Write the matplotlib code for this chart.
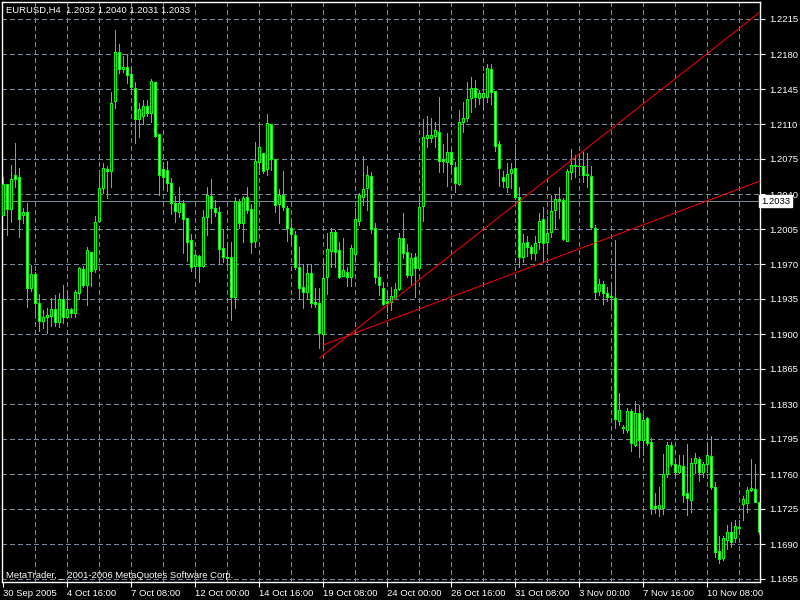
import matplotlib
matplotlib.use("Agg")
import matplotlib.pyplot as plt
from matplotlib.patches import Rectangle

plt.rcParams['font.family'] = ['Liberation Sans', 'DejaVu Sans']

symbol_title = "EURUSD,H4  1.2032 1.2040 1.2031 1.2033"
footer = "MetaTrader, _ 2001-2006 MetaQuotes Software Corp."

opens = [1.2019, 1.2050, 1.2025, 1.2059, 1.2057, 1.2019, 1.2022, 1.1946, 1.1960, 1.1931,
         1.1913, 1.1917, 1.1918, 1.1925, 1.1912, 1.1935, 1.1917, 1.1925, 1.1921, 1.1941,
         1.1965, 1.1949, 1.1982, 1.1965, 1.2013, 1.2046, 1.2065, 1.2063, 1.2133, 1.2182,
         1.2165, 1.2167, 1.2160, 1.2146, 1.2115, 1.2118, 1.2128, 1.2121, 1.2152, 1.2100,
         1.2065, 1.2064, 1.2051, 1.2031, 1.2022, 1.2031, 1.2016, 1.1994, 1.1968, 1.1978,
         1.1968, 1.2017, 1.2038, 1.2026, 1.2022, 1.1986, 1.1977, 1.1977, 1.1937, 1.2032,
         1.2011, 1.2037, 1.2025, 1.1993, 1.2072, 1.2081, 1.2065, 1.2110, 1.2075, 1.2030,
         1.2039, 1.2026, 1.2006, 1.1999, 1.1967, 1.1947, 1.1942, 1.1961, 1.1932, 1.1931,
         1.1900, 1.1957, 1.1983, 1.2002, 1.1984, 1.1958, 1.1962, 1.1957, 1.1980, 1.2013,
         1.2037, 1.2046, 1.2058, 1.2006, 1.1957, 1.1946, 1.1933, 1.1932, 1.1936, 1.1945,
         1.1996, 1.1982, 1.1959, 1.1977, 1.1966, 1.2028, 1.2096, 1.2096, 1.2098, 1.2102,
         1.2075, 1.2072, 1.2082, 1.2067, 1.2050, 1.2112, 1.2116, 1.2136, 1.2146, 1.2136,
         1.2137, 1.2137, 1.2165, 1.2143, 1.2090, 1.2057, 1.2047, 1.2061, 1.2066, 1.2037,
         1.1977, 1.1992, 1.1987, 1.1981, 1.1992, 1.2015, 1.1992, 1.2002, 1.2024, 1.2035,
         1.2034, 1.1993, 1.2062, 1.2068, 1.2068, 1.2068, 1.2060, 1.2058, 1.2006, 1.1943,
         1.1950, 1.1941, 1.1938, 1.1936, 1.1813, 1.1807, 1.1804, 1.1823, 1.1789, 1.1821,
         1.1794, 1.1816, 1.1792, 1.1728, 1.1726, 1.1726, 1.1760, 1.1789, 1.1770, 1.1762,
         1.1768, 1.1741, 1.1734, 1.1771, 1.1775, 1.1762, 1.1770, 1.1778, 1.1747, 1.1683,
         1.1676, 1.1694, 1.1702, 1.1696, 1.1707, 1.1730, 1.1731, 1.1744, 1.1745, 1.1732]
highs = [1.2057, 1.2050, 1.2069, 1.2091, 1.2066, 1.2026, 1.2031, 1.1969, 1.1962, 1.1940,
         1.1924, 1.1926, 1.1936, 1.1939, 1.1941, 1.1949, 1.1944, 1.1926, 1.1944, 1.1967,
         1.1968, 1.1987, 1.1982, 1.2018, 1.2059, 1.2071, 1.2068, 1.2142, 1.2204, 1.2190,
         1.2178, 1.2180, 1.2168, 1.2152, 1.2131, 1.2134, 1.2134, 1.2155, 1.2152, 1.2100,
         1.2072, 1.2073, 1.2056, 1.2038, 1.2047, 1.2034, 1.2016, 1.2000, 1.1980, 1.1979,
         1.2024, 1.2047, 1.2055, 1.2034, 1.2027, 1.2005, 1.1991, 1.1992, 1.2037, 1.2035,
         1.2038, 1.2047, 1.2030, 1.2092, 1.2107, 1.2081, 1.2120, 1.2110, 1.2075, 1.2045,
         1.2063, 1.2028, 1.2011, 1.2003, 1.1987, 1.1970, 1.1970, 1.1970, 1.1946, 1.1946,
         1.1976, 1.2001, 1.2006, 1.2004, 1.1992, 1.1996, 1.1967, 1.1989, 1.2026, 1.2041,
         1.2078, 1.2068, 1.2062, 1.2011, 1.1972, 1.1952, 1.1944, 1.1947, 1.1951, 1.2001,
         1.2021, 1.1990, 1.1981, 1.1981, 1.2037, 1.2115, 1.2118, 1.2116, 1.2112, 1.2137,
         1.2090, 1.2101, 1.2083, 1.2072, 1.2124, 1.2132, 1.2152, 1.2157, 1.2154, 1.2144,
         1.2161, 1.2170, 1.2170, 1.2143, 1.2093, 1.2063, 1.2071, 1.2071, 1.2090, 1.2047,
         1.2000, 1.1998, 1.1989, 1.1998, 1.2021, 1.2027, 1.2018, 1.2039, 1.2040, 1.2047,
         1.2036, 1.2065, 1.2085, 1.2079, 1.2081, 1.2082, 1.2081, 1.2068, 1.2009, 1.1955,
         1.1953, 1.1947, 1.1952, 1.1994, 1.1841, 1.1809, 1.1826, 1.1825, 1.1833, 1.1829,
         1.1819, 1.1817, 1.1796, 1.1741, 1.1747, 1.1780, 1.1792, 1.1792, 1.1776, 1.1779,
         1.1779, 1.1790, 1.1776, 1.1781, 1.1777, 1.1772, 1.1792, 1.1798, 1.1752, 1.1698,
         1.1698, 1.1709, 1.1712, 1.1714, 1.1714, 1.1738, 1.1747, 1.1775, 1.1770, 1.1732]
lows = [1.2019, 1.1999, 1.2012, 1.2047, 1.1997, 1.2011, 1.1927, 1.1943, 1.1921, 1.1903,
        1.1906, 1.1901, 1.1908, 1.1908, 1.1907, 1.1911, 1.1916, 1.1917, 1.1917, 1.1935,
        1.1947, 1.1929, 1.1948, 1.1962, 1.2012, 1.2041, 1.2036, 1.2047, 1.2126, 1.2161,
        1.2162, 1.2151, 1.2142, 1.2091, 1.2097, 1.2110, 1.2118, 1.2112, 1.2097, 1.2039,
        1.2046, 1.2043, 1.2020, 1.2012, 1.2017, 1.1981, 1.1973, 1.1963, 1.1957, 1.1952,
        1.1967, 1.1999, 1.2011, 1.2018, 1.1971, 1.1972, 1.1969, 1.1914, 1.1926, 1.2006,
        1.1992, 1.2021, 1.1981, 1.1987, 1.2061, 1.2061, 1.2059, 1.2064, 1.2022, 1.2011,
        1.2024, 1.1993, 1.1991, 1.1965, 1.1936, 1.1926, 1.1936, 1.1927, 1.1927, 1.1886,
        1.1889, 1.1940, 1.1967, 1.1967, 1.1956, 1.1958, 1.1948, 1.1948, 1.1974, 1.2009,
        1.2029, 1.2024, 1.2001, 1.1951, 1.1939, 1.1929, 1.1922, 1.1924, 1.1936, 1.1944,
        1.1976, 1.1957, 1.1949, 1.1937, 1.1964, 1.2013, 1.2087, 1.2092, 1.2087, 1.2062,
        1.2062, 1.2048, 1.2062, 1.2042, 1.2049, 1.2102, 1.2113, 1.2122, 1.2127, 1.2130,
        1.2124, 1.2132, 1.2130, 1.2083, 1.2048, 1.2047, 1.2042, 1.2046, 1.2035, 1.1967,
        1.1972, 1.1978, 1.1975, 1.1974, 1.1985, 1.1972, 1.1985, 1.1997, 1.2005, 1.2016,
        1.1994, 1.1993, 1.2055, 1.2057, 1.2059, 1.2052, 1.2047, 1.2005, 1.1936, 1.1939,
        1.1930, 1.1933, 1.1928, 1.1806, 1.1809, 1.1801, 1.1802, 1.1783, 1.1788, 1.1777,
        1.1779, 1.1789, 1.1720, 1.1721, 1.1718, 1.1720, 1.1757, 1.1768, 1.1759, 1.1761,
        1.1732, 1.1719, 1.1722, 1.1761, 1.1753, 1.1757, 1.1762, 1.1745, 1.1677, 1.1671,
        1.1674, 1.1685, 1.1687, 1.1692, 1.1702, 1.1714, 1.1722, 1.1743, 1.1732, 1.1700]
closes = [1.2050, 1.2025, 1.2055, 1.2055, 1.2015, 1.2022, 1.1946, 1.1960, 1.1931, 1.1913,
          1.1917, 1.1919, 1.1925, 1.1912, 1.1935, 1.1917, 1.1925, 1.1921, 1.1942, 1.1966,
          1.1949, 1.1984, 1.1963, 1.2012, 1.2046, 1.2066, 1.2063, 1.2131, 1.2182, 1.2165,
          1.2167, 1.2159, 1.2147, 1.2115, 1.2125, 1.2128, 1.2121, 1.2153, 1.2098, 1.2059,
          1.2057, 1.2051, 1.2031, 1.2023, 1.2031, 1.2015, 1.1992, 1.1967, 1.1979, 1.1968,
          1.2017, 1.2039, 1.2026, 1.2022, 1.1985, 1.1977, 1.1976, 1.1937, 1.2033, 1.2011,
          1.2036, 1.2024, 1.1992, 1.2073, 1.2087, 1.2063, 1.2111, 1.2075, 1.2029, 1.2039,
          1.2027, 1.2006, 1.2000, 1.1967, 1.1946, 1.1942, 1.1961, 1.1931, 1.1930, 1.1901,
          1.1956, 1.1985, 1.2002, 1.1982, 1.1957, 1.1964, 1.1957, 1.1986, 1.2015, 1.2039,
          1.2045, 1.2059, 1.2005, 1.1957, 1.1949, 1.1930, 1.1931, 1.1938, 1.1945, 1.1996,
          1.1981, 1.1959, 1.1976, 1.1966, 1.2027, 1.2097, 1.2099, 1.2099, 1.2104, 1.2073,
          1.2073, 1.2082, 1.2070, 1.2051, 1.2112, 1.2116, 1.2135, 1.2146, 1.2137, 1.2141,
          1.2141, 1.2166, 1.2142, 1.2088, 1.2066, 1.2053, 1.2060, 1.2065, 1.2037, 1.1977,
          1.1991, 1.1987, 1.1981, 1.1991, 1.2013, 1.1991, 1.2001, 1.2023, 1.2035, 1.2034,
          1.1995, 1.2063, 1.2069, 1.2069, 1.2068, 1.2059, 1.2059, 1.2007, 1.1942, 1.1950,
          1.1941, 1.1937, 1.1937, 1.1815, 1.1824, 1.1806, 1.1823, 1.1791, 1.1821, 1.1794,
          1.1814, 1.1791, 1.1726, 1.1726, 1.1729, 1.1760, 1.1789, 1.1770, 1.1762, 1.1769,
          1.1739, 1.1736, 1.1771, 1.1776, 1.1762, 1.1770, 1.1779, 1.1747, 1.1682, 1.1675,
          1.1696, 1.1702, 1.1692, 1.1708, 1.1706, 1.1735, 1.1744, 1.1746, 1.1732, 1.1702]

time_labels = ["30 Sep 2005", "4 Oct 16:00", "7 Oct 08:00", "12 Oct 00:00", "14 Oct 16:00",
               "19 Oct 08:00", "24 Oct 00:00", "26 Oct 16:00", "31 Oct 08:00", "3 Nov 00:00",
               "7 Nov 16:00", "10 Nov 08:00"]
label_bars = [0, 16, 32, 48, 64, 80, 96, 112, 128, 144, 160, 176]
grid_bars = [8, 16, 24, 32, 40, 48, 56, 64, 72, 80, 88, 96, 104, 112, 120, 128, 136, 144,
             152, 160, 168, 176, 184]
price_ticks = [1.1655, 1.1690, 1.1725, 1.1760, 1.1795, 1.1830, 1.1865, 1.1900, 1.1935,
               1.1970, 1.2005, 1.2040, 1.2075, 1.2110, 1.2145, 1.2180, 1.2215]
price_tick_labels = ["1.1655", "1.1690", "1.1725", "1.1760", "1.1795", "1.1830", "1.1865",
                     "1.1900", "1.1935", "1.1970", "1.2005", "1.2040", "1.2075", "1.2110",
                     "1.2145", "1.2180", "1.2215"]
bid_price = 1.2033
bid_label = "1.2033"

# trend lines: (bar, price) endpoints
trend1_bars = [79.0, 189.2]
trend1_prices = [1.18757, 1.22220]
trend2_bars = [80.0, 189.2]
trend2_prices = [1.18890, 1.20530]

LIME = "#00FF00"
GRID = "#778899"
LW = 0.72  # one pixel at 100 dpi
FS = 6.8

fig = plt.figure(figsize=(8, 6), dpi=100, facecolor="black")
ax = fig.add_axes([2 / 800, 18 / 600, 758 / 800, 580 / 600], facecolor="black")
ax.set_xlim(-0.325, 189.175)
ax.set_ylim(1.1652, 1.2232)

for p in price_ticks:
    ax.axhline(p, color=GRID, lw=LW, ls=(0, (5, 3)), zorder=1, antialiased=False)
for b in grid_bars:
    ax.axvline(b, color=GRID, lw=LW, ls=(0, (5, 3)), zorder=1, antialiased=False)

ax.axhline(bid_price, color=GRID, lw=LW, zorder=2, antialiased=False)

ax.plot(trend1_bars, trend1_prices, color="#FF0000", lw=LW, zorder=5, solid_capstyle="butt")
ax.plot(trend2_bars, trend2_prices, color="#FF0000", lw=LW, zorder=5, solid_capstyle="butt")

for i, (o, h, l, c) in enumerate(zip(opens, highs, lows, closes)):
    ax.vlines(i, l, h, color=LIME, lw=LW, zorder=3, antialiased=False)
    lo, hi = min(o, c), max(o, c)
    if hi - lo < 0.00005:
        ax.hlines(o, i - 0.25, i + 0.25, color=LIME, lw=LW, zorder=4, antialiased=False)
    else:
        fc = "white" if c < o else "black"
        ax.add_patch(Rectangle((i - 0.25, lo), 0.5, hi - lo, facecolor=fc,
                               edgecolor=LIME, lw=LW, zorder=4, antialiased=False))

for s in ax.spines.values():
    s.set_color("white")
    s.set_linewidth(1.0)

ax.yaxis.tick_right()
ax.set_yticks(price_ticks)
ax.set_yticklabels(price_tick_labels)
ax.tick_params(axis="y", colors="white", length=3.5, width=0.8, pad=3, labelsize=FS,
               direction="out")
ax.set_xticks(label_bars)
ax.set_xticklabels(time_labels)
ax.tick_params(axis="x", colors="white", length=3.5, width=0.8, pad=1.5, labelsize=FS,
               direction="out")
for lab in ax.get_xticklabels():
    lab.set_horizontalalignment("left")

ax.text(1.0015, bid_price, bid_label, transform=ax.get_yaxis_transform(),
        ha="left", va="center", fontsize=FS, color="black", zorder=10, clip_on=False,
        bbox=dict(boxstyle="square,pad=0.2", facecolor="white", edgecolor="white"))

fig.text(6 / 800, 1 - 10 / 600, symbol_title, color="white", fontsize=FS,
         ha="left", va="center")
ax.text(0.005, 7 / 580, footer, transform=ax.transAxes, color="white", fontsize=FS,
        ha="left", va="center")

fig.savefig("out.png", dpi=100, facecolor="black")
